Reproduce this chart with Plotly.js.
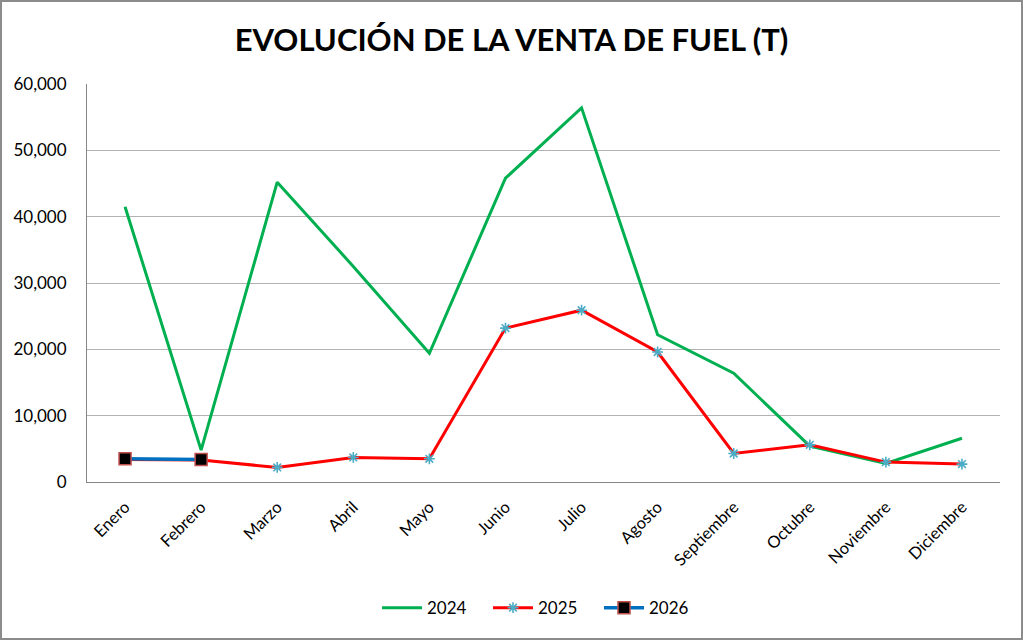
<!DOCTYPE html>
<html><head><meta charset="utf-8">
<script src="https://cdn.plot.ly/plotly-3.0.1.min.js"></script>
<style>
html,body{margin:0;padding:0;background:#fff;}
#wrap{width:1023px;height:640px;box-sizing:border-box;border:2px solid #8c8c8c;overflow:hidden;}
#chart{width:1019px;height:636px;}
</style></head><body>
<div id="wrap"><div id="chart"></div></div>
<script>
const months = ["Enero","Febrero","Marzo","Abril","Mayo","Junio","Julio","Agosto","Septiembre","Octubre","Noviembre","Diciembre"];
const ventas2024 = [41500, 4800, 45200, 32500, 19400, 45800, 56400, 22200, 16400, 5400, 2800, 6600];
const ventas2025 = [3400, 3300, 2200, 3700, 3500, 23200, 25900, 19600, 4300, 5600, 3000, 2700];
const ventas2026 = [3500, 3400];
const months2026 = months.slice(0, ventas2026.length);
const titleText = "EVOLUCIÓN DE LA VENTA DE FUEL (T)";

const font = "Lato, 'Open Sans', 'Liberation Sans', sans-serif";

const traces = [
  {x: months, y: ventas2024, name: "2024", type: "scatter", mode: "lines",
   line: {color: "#00b050", width: 3}},
  {x: months, y: ventas2025, name: "2025", type: "scatter", mode: "lines+markers",
   line: {color: "#ff0000", width: 3},
   marker: {symbol: "asterisk-open", size: 9, color: "#4bacc6", line: {color: "#4bacc6", width: 1.6}}},
  {x: months2026, y: ventas2026, name: "2026", type: "scatter", mode: "lines+markers",
   line: {color: "#0070c0", width: 3.5},
   marker: {symbol: "square", size: 12, color: "#000000", line: {color: "#c0504d", width: 1.5}}}
];

const layout = {
  width: 1019, height: 636,
  margin: {l: 85, r: 21, t: 82, b: 156, autoexpand: false},
  paper_bgcolor: "#ffffff", plot_bgcolor: "#ffffff",
  font: {family: font, color: "#000000", size: 16},
  title: {text: "<b>" + titleText + "</b>", x: 0.5, xanchor: "center",
          yref: "container", y: 0.94, yanchor: "middle",
          font: {family: font, size: 31, color: "#000000"}},
  xaxis: {type: "category", categoryorder: "array", categoryarray: months,
          range: [-0.5, 11.5], tickangle: -45, showgrid: false, automargin: false,
          showline: true, linecolor: "#868686", linewidth: 1,
          ticks: "outside", ticklen: 8, tickcolor: "rgba(0,0,0,0)",
          tickfont: {family: font, size: 16.5, color: "#000"}},
  yaxis: {range: [0, 60000], dtick: 10000, tickformat: ",d", automargin: false,
          showgrid: true, gridcolor: "#b3b3b3", gridwidth: 1,
          showline: true, linecolor: "#868686", linewidth: 1,
          ticks: "outside", ticklen: 16, tickcolor: "rgba(0,0,0,0)",
          zeroline: false, tickfont: {family: font, size: 17, color: "#000"}},
  showlegend: true,
  legend: {orientation: "h", x: 0.5, xanchor: "center", yref: "container", y: 0.047, yanchor: "middle",
           itemwidth: 40, entrywidth: 56, entrywidthmode: "pixels",
           font: {family: font, size: 17, color: "#000"}, bgcolor: "rgba(0,0,0,0)"}
};

Plotly.newPlot("chart", traces, layout, {displayModeBar: false, staticPlot: true});
</script>
</body></html>
